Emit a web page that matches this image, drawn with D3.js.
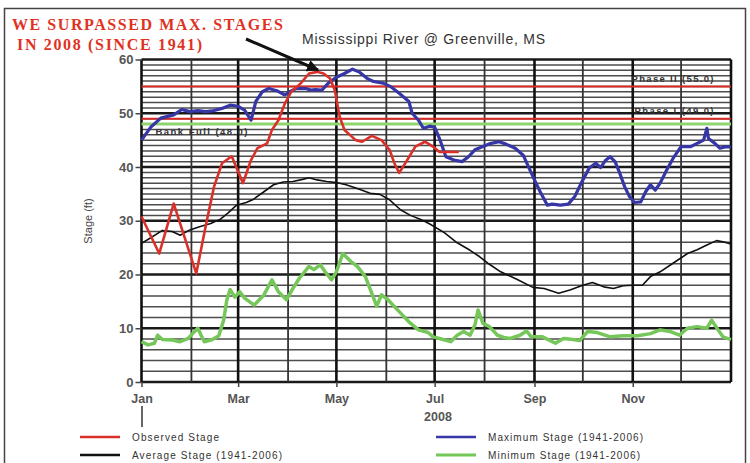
<!DOCTYPE html>
<html>
<head>
<meta charset="utf-8">
<script src="https://cdn.jsdelivr.net/npm/d3@7"></script>
<style>
    body { margin: 0; background: #fff; }
    svg { display: block; font-family: Arial, "Liberation Sans", sans-serif; }
</style>
</head>
<body>
<div id="chart-area"></div>
<script>
// dias desde 1 de janeiro de 2008 e cota (ft) de cada serie
const obsDays = [0, 11, 20, 34, 40, 45, 50, 56, 63, 68, 72, 78, 81, 85, 89, 93, 99, 104, 109, 113, 117, 120, 123, 126, 133, 137, 143, 149, 154, 157, 160, 165, 170, 176, 181, 185, 197];
const obsStage = [30.8, 23.9, 33.2, 20.2, 29.2, 36.3, 40.7, 42.0, 37.0, 41.3, 43.5, 44.4, 46.9, 48.7, 51.8, 54.0, 55.6, 57.4, 57.7, 57.4, 56.5, 54.3, 49.4, 46.9, 45.0, 44.7, 45.8, 45.0, 43.2, 40.7, 38.9, 41.3, 43.8, 44.7, 43.8, 42.8, 42.8];

const maxDays = [0, 6, 12, 20, 25, 30, 35, 40, 45, 50, 55, 60, 64, 68, 71, 75, 79, 84, 89, 92,
    96, 102, 105, 108, 112, 116, 121, 126, 131, 135, 140, 144, 150, 155, 160, 166, 168, 172, 175, 179,
    182, 185, 189, 194, 199, 203, 207, 212, 217, 222, 226, 232, 237, 240, 244, 248, 252, 255, 260, 265,
    269, 273, 278, 282, 285, 288, 291, 294, 297, 300, 303, 306, 310, 313, 316, 319, 322, 326, 330, 335,
    341, 345, 349, 351, 352, 356, 359, 363, 366];
const maxStage = [45.0, 47.5, 49.1, 49.7, 50.7, 50.3, 50.5, 50.3, 50.5, 50.9, 51.5, 51.3, 50.6, 48.7, 52.2, 54.0, 54.6, 54.2, 53.4, 54.0,
    54.6, 54.6, 54.3, 54.4, 54.3, 55.6, 56.7, 57.4, 58.2, 57.7, 56.5, 55.9, 55.6, 54.9, 53.7, 52.2, 50.0, 48.7, 47.2, 47.6,
    47.4, 45.3, 41.9, 41.3, 41.0, 41.9, 43.2, 43.8, 44.4, 44.7, 44.3, 43.5, 42.2, 40.2, 37.6, 35.1, 32.9, 33.1, 32.9, 33.1,
    34.5, 37.0, 39.8, 40.7, 39.9, 41.2, 41.9, 41.0, 38.8, 36.3, 34.5, 33.4, 33.5, 35.4, 36.7, 35.7, 37.0, 39.4, 41.6, 43.8,
    43.8, 44.4, 45.0, 47.2, 45.3, 44.4, 43.5, 43.8, 43.7];

const avgDays = [0, 5, 13, 19, 24, 30, 36, 43, 49, 54, 59, 65, 69, 76, 82, 88, 94, 100, 104, 109,
    115, 121, 127, 134, 142, 148, 154, 161, 167, 173, 179, 188, 196, 204, 210, 216, 223, 233, 243, 250,
    259, 266, 274, 280, 287, 293, 299, 305, 311, 316, 322, 330, 339, 345, 351, 357, 361, 366];
const avgStage = [25.8, 26.7, 28.2, 28.0, 27.3, 28.3, 28.9, 29.5, 30.3, 31.5, 32.9, 33.4, 33.9, 35.4, 36.7, 37.2, 37.3, 37.7, 38.0, 37.6,
    37.3, 37.1, 36.7, 36.0, 35.1, 34.9, 33.9, 32.0, 31.0, 30.3, 29.4, 27.8, 25.9, 24.5, 23.3, 21.9, 20.5, 19.1, 17.6, 17.4,
    16.5, 17.1, 18.0, 18.5, 17.7, 17.4, 17.9, 18.0, 18.0, 19.6, 20.5, 22.1, 23.9, 24.6, 25.5, 26.3, 26.1, 25.7];

const minDays = [0, 4, 8, 10, 13, 19, 24, 29, 32, 35, 37, 39, 44, 48, 51, 53, 55, 58, 61, 64,
    70, 76, 81, 85, 90, 94, 98, 104, 107, 111, 114, 118, 121, 125, 130, 134, 139, 143, 146, 149,
    153, 160, 166, 172, 178, 181, 185, 192, 196, 200, 204, 207, 209, 212, 216, 221, 225, 229, 235, 239,
    242, 249, 257, 262, 268, 272, 277, 283, 291, 299, 308, 316, 322, 328, 334, 339, 345, 351, 354, 358,
    361, 366];
const minStage = [7.5, 6.9, 7.2, 8.7, 7.9, 7.8, 7.5, 8.1, 9.1, 10.0, 8.7, 7.5, 7.9, 8.6, 11.5, 15.3, 17.2, 15.8, 16.8, 15.6,
    14.3, 16.2, 19.0, 16.8, 15.3, 17.4, 19.3, 21.5, 20.9, 21.8, 20.5, 19.0, 20.5, 23.9, 22.4, 21.5, 19.6, 16.5, 14.1, 16.2,
    15.3, 13.1, 11.2, 9.7, 9.2, 8.4, 8.1, 7.5, 8.7, 9.4, 8.7, 10.6, 13.4, 10.9, 10.3, 8.7, 8.3, 8.1, 8.7, 9.5,
    8.4, 8.4, 7.2, 8.1, 7.9, 7.7, 9.4, 9.2, 8.4, 8.6, 8.6, 9.0, 9.7, 9.4, 8.7, 10.0, 10.3, 10.0, 11.5, 9.7,
    8.4, 7.9];

// linhas de referencia (cotas de alerta)
const refLevels = [55, 49, 48];
const refLabels = ['Phase II (55.0)', 'Phase I (49.0)', 'Bank Full (48.0)'];
const yTicks = [0, 10, 20, 30, 40, 50, 60];
const monthLabels = ['Jan', 'Mar', 'May', 'Jul', 'Sep', 'Nov'];
const legendNames = ['Observed Stage', 'Maximum Stage (1941-2006)', 'Average Stage (1941-2006)', 'Minimum Stage (1941-2006)'];

const width = 750;
const height = 463;
const margin = { top: 59.5, right: 19, bottom: 81, left: 141.5 };
const innerWidth = width - margin.left - margin.right;
const innerHeight = height - margin.top - margin.bottom;

const start = new Date(2008, 0, 1);
const end = new Date(2009, 0, 1);
const dayToDate = d => d3.timeDay.offset(start, d);

const svg = d3.select('#chart-area').append('svg')
    .attr('width', width)
    .attr('height', height);

// moldura da figura
svg.append('rect')
    .attr('x', 4.5).attr('y', 8.5)
    .attr('width', 741).attr('height', 460)
    .attr('fill', 'none')
    .attr('stroke', '#444')
    .attr('stroke-width', 1.5);

const g = svg.append('g')
    .attr('transform', `translate(${margin.left}, ${margin.top})`);

const xScale = d3.scaleTime().domain([start, end]).range([0, innerWidth]);
const yScale = d3.scaleLinear().domain([0, 60]).range([innerHeight, 0]);

// grade horizontal: 1 ft acima de 30, 2 ft abaixo
const hGrid = d3.range(0, 61).filter(v => v >= 30 || v % 2 === 0);
g.selectAll('.hgrid')
    .data(hGrid)
    .enter()
    .append('line')
    .attr('x1', 0).attr('x2', innerWidth)
    .attr('y1', d => yScale(d)).attr('y2', d => yScale(d))
    .attr('stroke', d => d % 10 === 0 ? '#1a1a1a' : '#4d4d4d')
    .attr('stroke-width', d => d % 10 === 0 ? 2.4 : 1.5);

// grade vertical: um traço por mes
const months = d3.timeMonth.range(start, end).concat([end]);
g.selectAll('.vgrid')
    .data(months)
    .enter()
    .append('line')
    .attr('x1', d => xScale(d)).attr('x2', d => xScale(d))
    .attr('y1', 0).attr('y2', innerHeight)
    .attr('stroke', (d, i) => i % 2 === 0 ? '#111' : '#333')
    .attr('stroke-width', (d, i) => i % 2 === 0 ? 2.6 : 1.8);

// linhas de alerta
g.selectAll('.ref')
    .data(refLevels)
    .enter()
    .append('line')
    .attr('x1', 0).attr('x2', innerWidth)
    .attr('y1', d => yScale(d)).attr('y2', d => yScale(d))
    .attr('stroke', d => d === 48 ? '#8fd46e' : '#d92a24')
    .attr('stroke-width', d => d === 48 ? 3 : 2);

const refText = g.append('g')
    .attr('font-size', '9.5px')
    .attr('font-weight', 'bold')
    .attr('fill', '#333');
refText.append('text')
    .attr('x', 490).attr('y', yScale(refLevels[0]) - 4)
    .attr('textLength', 82)
    .text(refLabels[0]);
refText.append('text')
    .attr('x', 493).attr('y', yScale(refLevels[1]) - 4.5)
    .attr('textLength', 79)
    .text(refLabels[1]);
refText.append('text')
    .attr('x', 14).attr('y', yScale(refLevels[2]) + 11)
    .attr('textLength', 92)
    .text(refLabels[2]);

// series
const line = d3.line()
    .x(d => xScale(dayToDate(d[0])))
    .y(d => yScale(d[1]));

const series = [
    { days: minDays, values: minStage, color: '#76c75a', width: 3.5 },
    { days: avgDays, values: avgStage, color: '#111', width: 1.6 },
    { days: maxDays, values: maxStage, color: '#3636a6', width: 3.2 },
    { days: obsDays, values: obsStage, color: '#d9302a', width: 2.6 }
];

series.forEach(s => {
    g.append('path')
        .datum(d3.zip(s.days, s.values))
        .attr('fill', 'none')
        .attr('stroke', s.color)
        .attr('stroke-width', s.width)
        .attr('stroke-linejoin', 'round')
        .attr('d', line);
});

// eixo Y
const columnY = g.append('g')
    .call(d3.axisLeft(yScale).tickValues(yTicks).tickSize(6).tickPadding(2))
    .attr('font-size', '13px')
    .attr('font-weight', 'bold');
columnY.select('.domain').remove();
columnY.selectAll('line').attr('stroke', '#444').attr('stroke-width', 1.5);
columnY.selectAll('text').attr('fill', '#555').attr('font-family', 'Arial, "Liberation Sans", sans-serif');

// eixo X
const labelMonths = d3.timeMonth.every(2).range(start, end);
const columnX = g.append('g')
    .attr('transform', `translate(0, ${innerHeight})`)
    .call(d3.axisBottom(xScale)
        .tickValues(labelMonths)
        .tickFormat((d, i) => monthLabels[i])
        .tickSize(5)
        .tickPadding(7))
    .attr('font-size', '12.5px')
    .attr('font-weight', 'bold');
columnX.select('.domain').remove();
columnX.selectAll('line').attr('stroke', '#444').attr('stroke-width', 1.5);
columnX.selectAll('text').attr('fill', '#555').attr('font-family', 'Arial, "Liberation Sans", sans-serif');

// traço abaixo de Jan e ano
svg.append('line')
    .attr('x1', margin.left + 0.5).attr('x2', margin.left + 0.5)
    .attr('y1', 406).attr('y2', 427)
    .attr('stroke', '#333').attr('stroke-width', 1.5);

svg.append('text')
    .attr('x', 438).attr('y', 421)
    .attr('text-anchor', 'middle')
    .attr('font-size', '12.5px')
    .attr('font-weight', 'bold')
    .attr('fill', '#555')
    .text('2008');

// titulo do eixo Y
svg.append('text')
    .attr('transform', 'translate(92, 221) rotate(-90)')
    .attr('text-anchor', 'middle')
    .attr('font-size', '11px')
    .attr('fill', '#444')
    .text('Stage (ft)');

// titulo
svg.append('text')
    .attr('x', 302).attr('y', 44)
    .attr('textLength', 243)
    .attr('font-size', '14px')
    .attr('fill', '#333')
    .text('Mississippi River @ Greenville, MS');

// anotacao em vermelho
const note = svg.append('g')
    .attr('font-family', '"Liberation Serif", "Times New Roman", serif')
    .attr('font-weight', 'bold')
    .attr('font-size', '16px')
    .attr('fill', '#e0321f');
note.append('text').attr('x', 12).attr('y', 30).attr('textLength', 271).text('WE SURPASSED MAX. STAGES');
note.append('text').attr('x', 17).attr('y', 50).attr('textLength', 185).text('IN 2008 (SINCE 1941)');

// seta
svg.append('defs').append('marker')
    .attr('id', 'arrow')
    .attr('viewBox', '0 0 10 10')
    .attr('refX', 9).attr('refY', 5)
    .attr('markerWidth', 4).attr('markerHeight', 4)
    .attr('orient', 'auto')
    .append('path')
    .attr('d', 'M0,0 L10,5 L0,10 Z')
    .attr('fill', '#111');
svg.append('line')
    .attr('x1', 246).attr('y1', 39)
    .attr('x2', 318).attr('y2', 70)
    .attr('stroke', '#111')
    .attr('stroke-width', 3)
    .attr('marker-end', 'url(#arrow)');

// legenda
const legend = svg.append('g')
    .attr('font-size', '10px')
    .attr('fill', '#333');
const legendPos = [
    { x: 80, y: 437, color: '#d9302a', w: 87 },
    { x: 436, y: 437, color: '#3636a6', w: 155 },
    { x: 80, y: 455, color: '#111', w: 150 },
    { x: 436, y: 455, color: '#76c75a', w: 152 }
];
legendPos.forEach((p, i) => {
    legend.append('line')
        .attr('x1', p.x).attr('x2', p.x + 40)
        .attr('y1', p.y).attr('y2', p.y)
        .attr('stroke', p.color)
        .attr('stroke-width', i === 3 ? 3 : 2.5);
    legend.append('text')
        .attr('x', p.x + 52).attr('y', p.y + 3.5)
        .attr('textLength', p.w)
        .text(legendNames[i]);
});
</script>
</body>
</html>
